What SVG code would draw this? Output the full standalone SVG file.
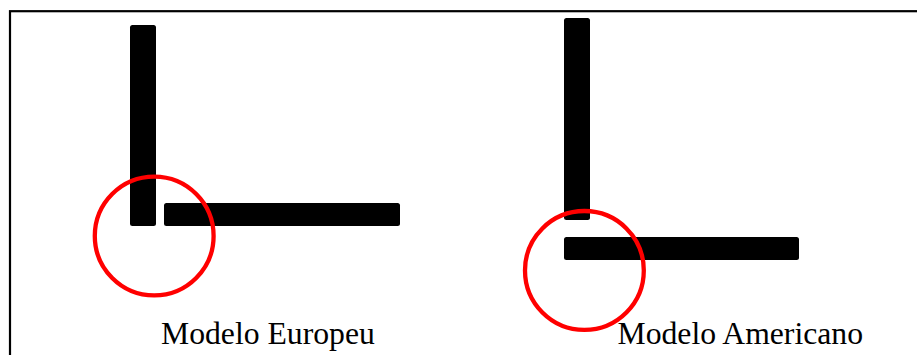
<svg xmlns="http://www.w3.org/2000/svg" width="917" height="355" viewBox="0 0 917 355">
<style>
.bar{fill:#000;}
.ring{fill:none;stroke:#ff0000;stroke-width:4.3;}
.lbl{font-family:"Liberation Serif","Times New Roman",serif;font-size:31.7px;fill:#000;}
</style>
<rect x="0" y="0" width="917" height="355" fill="#fff"/>
<rect x="10" y="11.2" width="920" height="360" fill="none" stroke="#000" stroke-width="2.2"/>
<g id="europeu">
<rect class="bar" x="130" y="25" width="26" height="201" rx="2.5"/>
<rect class="bar" x="164" y="203" width="236" height="23" rx="2.5"/>
<circle class="ring" cx="154.2" cy="236" r="59.4"/>
<text class="lbl" x="161" y="344.3">Modelo Europeu</text>
</g>
<g id="americano">
<rect class="bar" x="564" y="18" width="26" height="202" rx="2.5"/>
<rect class="bar" x="564" y="237" width="235" height="23" rx="2.5"/>
<circle class="ring" cx="584.4" cy="270.4" r="59.4"/>
<text class="lbl" x="617.5" y="344.3">Modelo Americano</text>
</g>
</svg>
